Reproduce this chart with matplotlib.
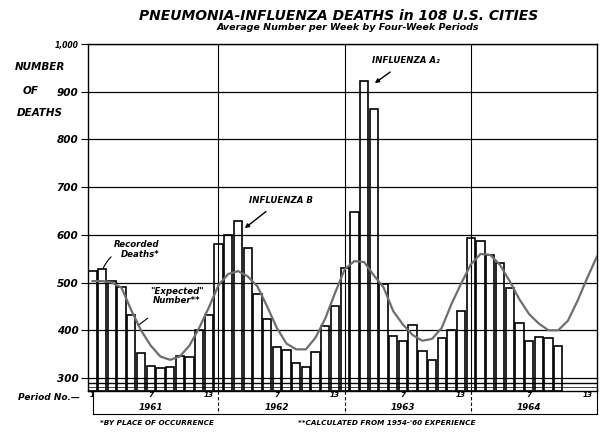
import numpy as np
import matplotlib
matplotlib.use("Agg")
import matplotlib.pyplot as plt

# average number of deaths per week, four-week periods, 1961 p1 .. 1964 p10
recorded = [525, 528, 503, 490, 431, 352, 325, 320, 322, 347, 343, 400, 431,
            580, 600, 628, 572, 476, 424, 365, 358, 331, 323, 355, 408, 450,
            531, 648, 922, 864, 497, 388, 377, 411, 357, 338, 383, 400, 441,
            594, 587, 558, 540, 488, 416, 378, 386, 383, 367]

# "expected" number read at each period, 1961 p1 .. 1965 p1
expected = [503, 503, 500, 489, 442, 400, 368, 345, 338, 345, 368, 405, 448,
            495, 518, 524, 513, 492, 450, 405, 372, 360, 360, 385, 425, 478,
            528, 545, 543, 515, 490, 440, 412, 390, 378, 382, 405, 455, 498,
            538, 560, 558, 537, 503, 465, 434, 414, 400, 400, 420, 462, 510,
            555]

period_pos = [0, 6, 12, 19, 25, 32, 38, 45, 51]
period_lbl = ["1", "7", "13", "7", "13", "7", "13", "7", "13"]
years = ["1961", "1962", "1963", "1964"]
year_pos = [6, 19, 32, 45]
year_lines = [12.95, 26.0, 39.0]
yticks = [300, 400, 500, 600, 700, 800, 900, 1000]
ytick_lbl = ["300", "400", "500", "600", "700", "800", "900", "1,000"]

W, H = 606, 433
fig = plt.figure(figsize=(W / 100, H / 100), dpi=100)
ax = fig.add_axes([88 / W, 1 - 391 / H, (597 - 88) / W, (391 - 44) / H])

ymin = 272.7
ax.set_xlim(-0.46, 52.0)
ax.set_ylim(ymin, 1000)

bi = dict(fontstyle="italic", fontweight="bold")


def ftext(px, py, s, **kw):
    # place text by pixel position on the figure
    return fig.text(px / W, 1 - py / H, s, **kw)


# bars
x = np.arange(len(recorded))
ax.bar(x, np.array(recorded) - ymin, bottom=ymin, width=0.86,
       facecolor="none", edgecolor="black", linewidth=1.2, zorder=3)

# expected curve
ax.plot(np.arange(len(expected)), expected, color="#6e6e6e", lw=1.6, zorder=4)

# grid
ax.set_yticks(yticks)
ax.set_yticklabels(ytick_lbl)
ax.grid(axis="y", color="black", lw=0.9, zorder=1)
for xl in year_lines:
    ax.axvline(xl, color="black", lw=0.8, zorder=2)
ax.axhline(289, color="black", lw=1.0, zorder=2)
ax.axhline(282, color="#444444", lw=0.7, zorder=2)

for s in ax.spines.values():
    s.set_linewidth(1.0)

ax.tick_params(axis="y", length=5, width=0.8, labelsize=7.5, pad=2)
for t in ax.get_yticklabels():
    t.set_fontstyle("italic")
    t.set_fontweight("bold")
ax.get_yticklabels()[-1].set_fontsize(5.5)

ax.set_xticks(period_pos)
ax.set_xticklabels(period_lbl)
ax.tick_params(axis="x", length=0, labelsize=5.2, pad=1)
for t in ax.get_xticklabels():
    t.set_fontstyle("italic")
    t.set_fontweight("bold")

# year labels and bracket under the axis
xt = ax.get_xaxis_transform()
y_year = -(407 - 391) / (391 - 44)
y_brk = -(414 - 391) / (391 - 44)
for yr, p in zip(years, year_pos):
    ax.text(p, y_year, yr, transform=xt, ha="center", va="center",
            fontsize=6.3, **bi)
for xl in year_lines:
    ax.plot([xl, xl], [0, y_brk], transform=xt, color="black", lw=0.8,
            ls=(0, (3, 2)), clip_on=False)
ax.plot([0.05, 0.05], [0, y_brk], transform=xt, color="black", lw=0.8,
        clip_on=False)
ax.plot([52.0, 52.0], [0, y_brk], transform=xt, color="black", lw=0.8,
        clip_on=False)
ax.plot([0.05, 52.0], [y_brk, y_brk], transform=xt, color="black", lw=0.8,
        clip_on=False)

# annotations
ax.annotate("Recorded\nDeaths*", xy=(1.1, 530), xytext=(6.9, 570),
            ha="right", va="center", fontsize=6.2, linespacing=1.1,
            arrowprops=dict(arrowstyle="-", lw=0.8, color="black",
                            connectionstyle="arc3,rad=0.35",
                            shrinkA=14, shrinkB=0), **bi)
ax.annotate("\"Expected\"\nNumber**", xy=(4.7, 410), xytext=(8.7, 472),
            ha="center", va="center", fontsize=6.2, linespacing=1.1,
            arrowprops=dict(arrowstyle="-", lw=0.8, color="black",
                            shrinkA=12, shrinkB=0), **bi)
ax.annotate("INFLUENZA B", xy=(15.7, 614), xytext=(19.4, 673),
            ha="center", va="center", fontsize=6.2,
            arrowprops=dict(arrowstyle="-|>", lw=1.0, color="black",
                            mutation_scale=6, shrinkA=5, shrinkB=0), **bi)
ax.annotate("INFLUENZA A\u2082", xy=(29.1, 918), xytext=(32.3, 965),
            ha="center", va="center", fontsize=6.2,
            arrowprops=dict(arrowstyle="-|>", lw=1.0, color="black",
                            mutation_scale=6, shrinkA=5, shrinkB=0), **bi)

# titles and labels
ftext(339, 16, "PNEUMONIA-INFLUENZA DEATHS in 108 U.S. CITIES",
      ha="center", va="center", fontsize=10, **bi)
ftext(348, 28, "Average Number per Week by Four-Week Periods",
      ha="center", va="center", fontsize=6.8, **bi)
ftext(40, 67, "NUMBER", ha="center", va="center", fontsize=7.5, **bi)
ftext(31, 91, "OF", ha="center", va="center", fontsize=7.5, **bi)
ftext(40, 113, "DEATHS", ha="center", va="center", fontsize=7.5, **bi)
ftext(18, 397, "Period No.\u2014", ha="left", va="center", fontsize=6.5, **bi)
ftext(100, 423, "*BY PLACE OF OCCURRENCE", ha="left", va="center",
      fontsize=5.2, **bi)
ftext(298, 423, "**CALCULATED FROM 1954-'60 EXPERIENCE", ha="left",
      va="center", fontsize=5.2, **bi)

fig.savefig("out.png", dpi=100)
